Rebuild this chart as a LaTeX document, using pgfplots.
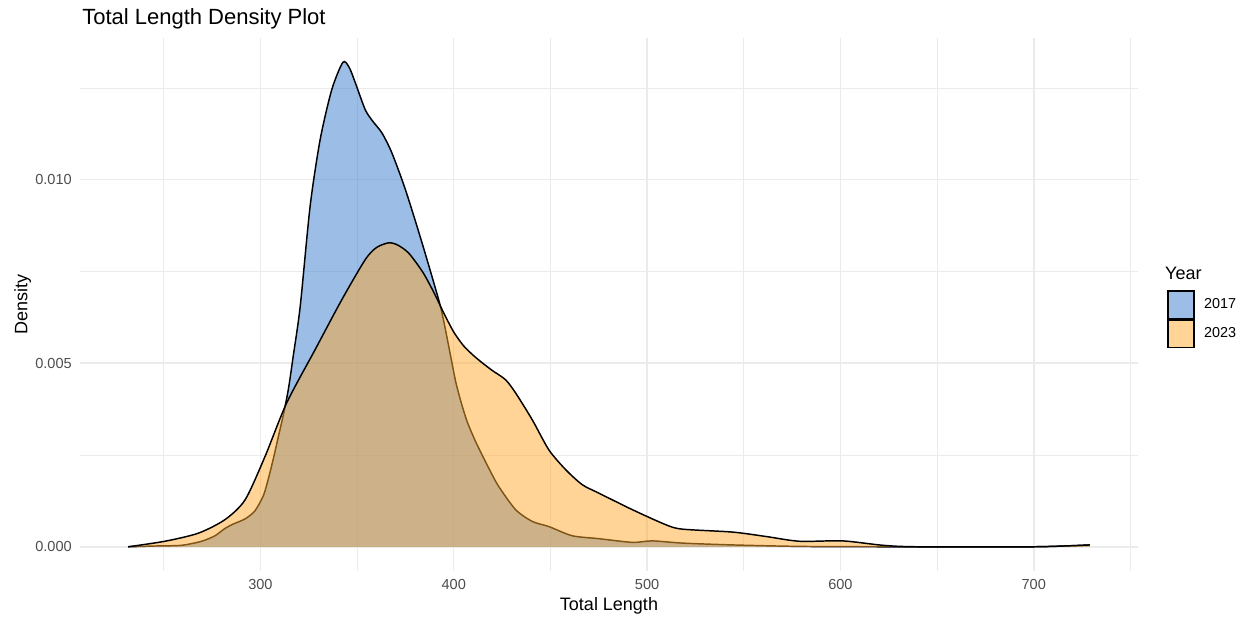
\documentclass[border=0pt]{standalone}
\usepackage{pgfplots}
\pgfplotsset{compat=1.18}
\usepackage{pgfplotstable}
\usepackage{fontspec}
\setmainfont{Liberation Sans}
\definecolor{c17}{RGB}{55,123,205}
\definecolor{c23}{RGB}{255,169,45}
\definecolor{gridc}{RGB}{235,235,235}
\definecolor{tickc}{RGB}{77,77,77}

\pgfplotstableread{
x y
231.6 0.00000
245.0 0.00002
259.2 0.00004
269.6 0.00015
276.5 0.00030
281.7 0.00050
286.0 0.00062
292.1 0.00076
297.2 0.00098
301.6 0.00140
304.1 0.00185
306.7 0.00240
309.3 0.00300
311.9 0.00360
314.5 0.00430
317.0 0.00520
320.6 0.00655
325.7 0.00927
330.9 0.01109
336.9 0.01245
342.7 0.01320
346.0 0.01305
349.1 0.01264
354.2 0.01191
358.0 0.01160
362.9 0.01127
368.0 0.01073
375.0 0.00973
383.6 0.00828
392.2 0.00673
395.0 0.00610
398.0 0.00530
401.0 0.00450
404.0 0.00390
407.0 0.00340
411.0 0.00290
414.7 0.00250
419.0 0.00205
423.3 0.00164
432.0 0.00101
440.6 0.00069
449.2 0.00055
461.3 0.00030
475.1 0.00022
492.4 0.00012
502.7 0.00016
518.3 0.00010
544.2 0.00005
578.8 0.00001
620.0 0.00000
700.0 0.00000
729.0 0.00005
}\dataA

\pgfplotstableread{
x y
231.6 0.00000
250.6 0.00015
267.9 0.00037
281.7 0.00074
292.1 0.00128
302.4 0.00246
313.6 0.00392
328.3 0.00537
342.1 0.00673
354.2 0.00782
360.0 0.00815
366.3 0.00828
371.0 0.00822
376.7 0.00800
384.0 0.00748
390.0 0.00690
395.0 0.00635
400.0 0.00585
405.0 0.00548
410.0 0.00522
415.0 0.00500
420.0 0.00480
426.8 0.00455
432.0 0.00419
440.6 0.00346
449.2 0.00264
457.9 0.00210
466.5 0.00169
475.1 0.00146
492.4 0.00101
509.7 0.00060
518.3 0.00048
544.2 0.00040
561.5 0.00028
578.8 0.00015
601.2 0.00016
622.0 0.00004
640.0 0.00000
700.0 0.00000
729.0 0.00005
}\dataB

\begin{document}
\begin{tikzpicture}
\path[use as bounding box] (0,0) rectangle (935.25pt,465.75pt);
\begin{axis}[
  at={(60pt,37.5pt)}, anchor=south west,
  scale only axis, width=793.5pt, height=399.75pt,
  xmin=206.7, xmax=753.9,
  ymin=-0.00066, ymax=0.01386,
  axis line style={draw=none},
  major tick length=0pt, minor tick length=0pt,
  xtick={300,400,500,600,700},
  minor xtick={250,350,450,550,650,750},
  ytick={0,0.005,0.01},
  minor ytick={0.0025,0.0075,0.0125},
  scaled y ticks=false,
  /pgf/number format/assume math mode=true,
  yticklabel={\pgfmathprintnumber[fixed, fixed zerofill, precision=3]{\tick}},
  ticklabel style={font=\fontsize{10.9}{13}\selectfont, text=tickc, inner sep=0pt},
  xticklabel style={anchor=north, yshift=-6pt},
  yticklabel style={anchor=east, xshift=-6pt},
  grid=both,
  major grid style={gridc, line width=1.1pt},
  minor grid style={gridc, line width=0.55pt},
  xlabel={Total Length},
  ylabel={Density},
  label style={font=\fontsize{13.5}{16}\selectfont, inner sep=0pt},
  xlabel style={at={([yshift=-19.9pt]rel axis cs:0.5,0)}, anchor=north},
  ylabel style={at={([xshift=-43pt]rel axis cs:0,0.5)}, anchor=center},
  legend style={at={(rel axis cs:1.0274,0.5272)}, anchor=north west, draw=none, fill=none,
    inner sep=0pt, row sep=0pt, column sep=7pt,
    nodes={inner sep=0pt, anchor=west},
    font=\fontsize{10.8}{13}\selectfont},
  legend cell align=left,
  legend image code/.code={\draw[#1, line width=1.1pt] (0pt,-10.3pt) rectangle (19.5pt,10.3pt);},
  clip=false,
]
\addplot[draw=none, fill=c17, fill opacity=0.5, smooth, tension=0.45, forget plot] table[x=x,y=y] {\dataA} \closedcycle;
\addplot[black, line width=1.1pt, smooth, tension=0.45, forget plot] table[x=x,y=y] {\dataA};
\addplot[draw=none, fill=c23, fill opacity=0.5, smooth, tension=0.45, forget plot] table[x=x,y=y] {\dataB} \closedcycle;
\addplot[black, line width=1.1pt, smooth, tension=0.45, forget plot] table[x=x,y=y] {\dataB};
\addlegendimage{draw=black, fill=c17, fill opacity=0.5}
\addlegendentry{2017}
\addlegendimage{draw=black, fill=c23, fill opacity=0.5}
\addlegendentry{2023}
\node[anchor=base west, inner sep=0pt, font=\fontsize{13.5}{16}\selectfont] at (rel axis cs:1.0255,0.54597) {Year};
\node[anchor=base west, inner sep=0pt, font=\fontsize{16.5}{19}\selectfont] at ([xshift=1.5pt,yshift=9.75pt]rel axis cs:0,1) {Total Length Density Plot};
\end{axis}
\end{tikzpicture}
\end{document}
